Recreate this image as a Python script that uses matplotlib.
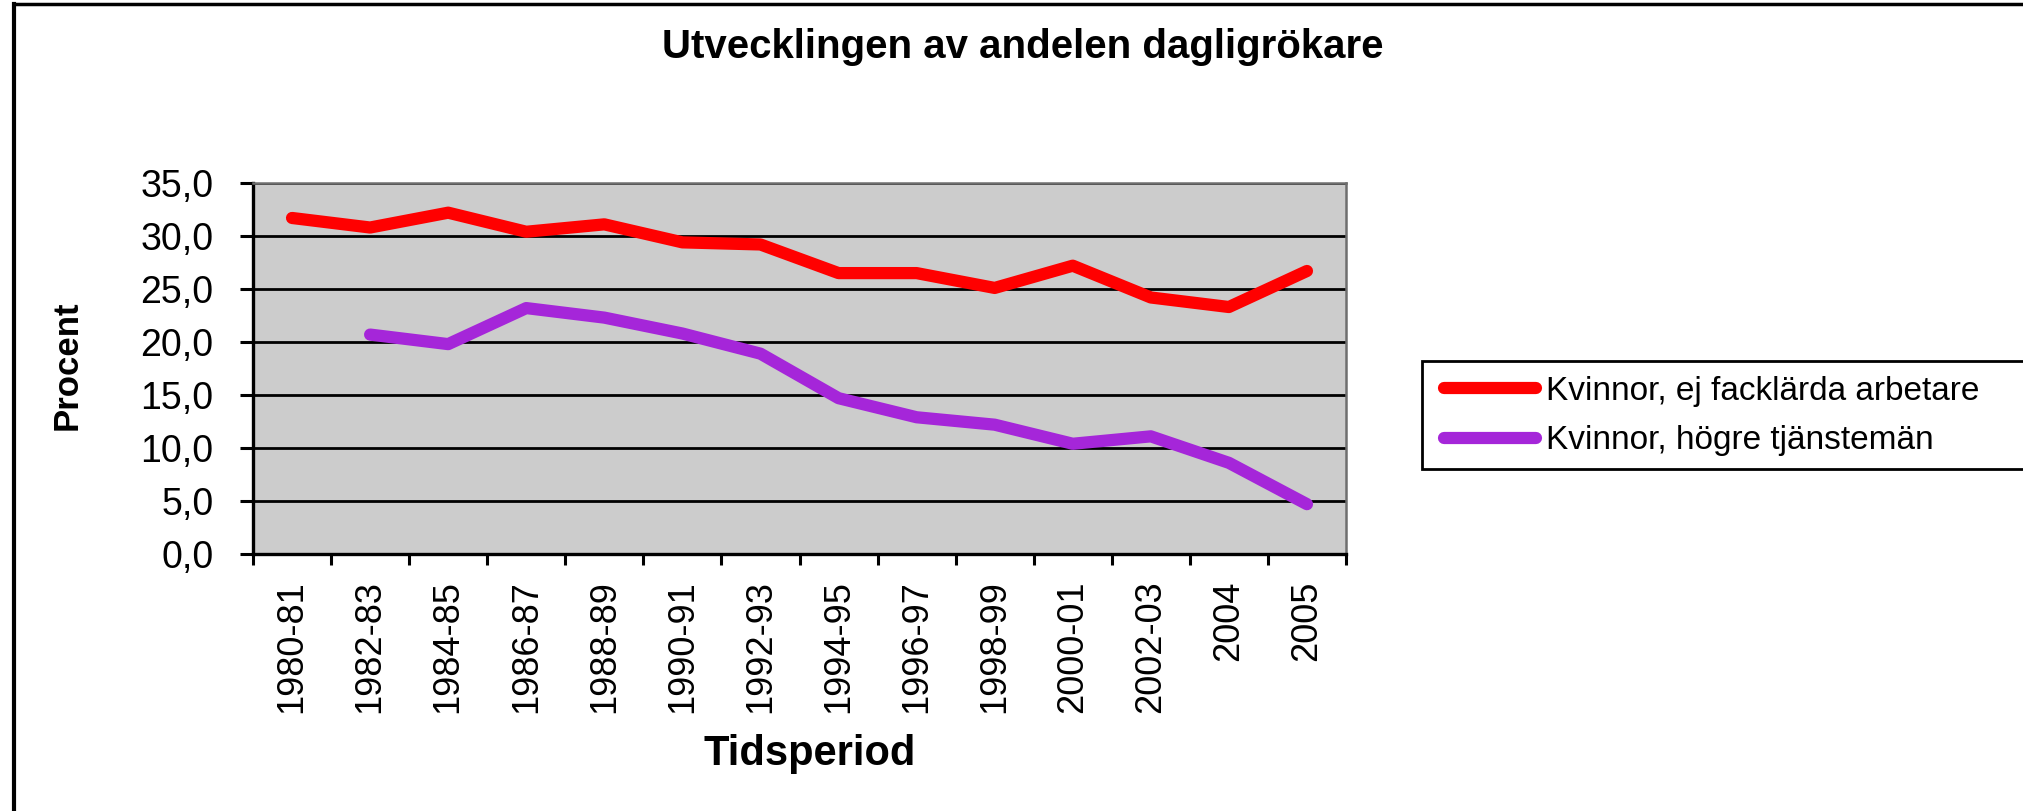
import numpy as np
import matplotlib.pyplot as plt
from matplotlib.lines import Line2D
from matplotlib.patches import Rectangle

periods = ['1980-81', '1982-83', '1984-85', '1986-87', '1988-89', '1990-91',
           '1992-93', '1994-95', '1996-97', '1998-99', '2000-01', '2002-03',
           '2004', '2005']
arbetare = [31.7, 30.8, 32.2, 30.4, 31.1, 29.4, 29.2, 26.5, 26.5, 25.1,
            27.2, 24.2, 23.3, 26.7]
tjanstemän = [np.nan, 20.7, 19.8, 23.2, 22.3, 20.8, 18.9, 14.7, 12.9, 12.2,
              10.4, 11.1, 8.6, 4.7]
y_ticks = [0, 5, 10, 15, 20, 25, 30, 35]
y_labels = ['0,0', '5,0', '10,0', '15,0', '20,0', '25,0', '30,0', '35,0']

plt.rcParams['font.family'] = ['Liberation Sans', 'DejaVu Sans']

W, H = 2023, 811
fig = plt.figure(figsize=(W / 100, H / 100), dpi=100)
ax = fig.add_axes([253 / W, 1 - 554 / H, (1346 - 253) / W, (554 - 183) / H])
ax.set_facecolor('#cccccc')

x = np.arange(len(periods))
ax.plot(x, arbetare, color='#ff0000', lw=8.8, solid_capstyle='round',
        label='Kvinnor, ej facklärda arbetare', zorder=3)
ax.plot(x, tjanstemän, color='#a526d9', lw=8.8, solid_capstyle='round',
        label='Kvinnor, högre tjänstemän', zorder=3)

ax.set_xlim(-0.5, len(periods) - 0.5)
ax.set_ylim(0, 35)

# category boundary ticks, labels in between
ax.set_xticks(np.arange(-0.5, len(periods), 1.0))
ax.set_xticklabels([])
ax.set_xticks(x, minor=True)
ax.set_xticklabels(periods, minor=True, rotation=90, fontsize=26, va='top')
ax.tick_params(axis='x', which='major', length=8, width=2.2, direction='out')
ax.tick_params(axis='x', which='minor', length=0, pad=19)

ax.set_yticks(y_ticks)
ax.set_yticklabels(y_labels, fontsize=27)
ax.tick_params(axis='y', length=9.5, width=2.2, direction='out', pad=19)

ax.yaxis.grid(True, color='black', lw=2)
ax.set_axisbelow(True)

for side in ['left', 'bottom']:
    ax.spines[side].set_color('black')
    ax.spines[side].set_linewidth(2.4)
for side in ['top', 'right']:
    ax.spines[side].set_color('#6e6e6e')
    ax.spines[side].set_linewidth(1.8)

fig.text(1023 / W, 1 - 58 / H, 'Utvecklingen av andelen dagligrökare',
         ha='center', va='baseline', fontsize=29, fontweight='bold')
fig.text(67 / W, 1 - 365 / H, 'Procent', rotation=90, ha='center',
         va='center', fontsize=25, fontweight='bold')
fig.text(810 / W, 1 - 765 / H, 'Tidsperiod', ha='center', va='baseline',
         fontsize=30, fontweight='bold')

# outer frame (left and top edges visible)
fig.add_artist(Line2D([13.5 / W, 13.5 / W], [0, 1 - 4 / H], color='black',
                      lw=3, transform=fig.transFigure))
fig.add_artist(Line2D([13.5 / W, 1], [1 - 4 / H, 1 - 4 / H], color='black',
                      lw=2.5, transform=fig.transFigure))

# legend box runs past the right edge
fig.add_artist(Rectangle((1422 / W, 1 - 469 / H), (2040 - 1422) / W,
                         (469 - 361) / H, transform=fig.transFigure,
                         facecolor='white', edgecolor='black', lw=2,
                         clip_on=False, zorder=1))
handles, labels = ax.get_legend_handles_labels()
leg = fig.legend(handles, labels, loc='center left',
                 bbox_to_anchor=(1444 / W, 1 - 416 / H), frameon=False,
                 fontsize=24, handlelength=2.75, handletextpad=0.3,
                 labelspacing=0.55, borderpad=0, borderaxespad=0)
leg.set_zorder(2)
for line in leg.get_lines():
    line.set_linewidth(8.8)
    line.set_solid_capstyle('round')

fig.savefig('out.png', dpi=100)
